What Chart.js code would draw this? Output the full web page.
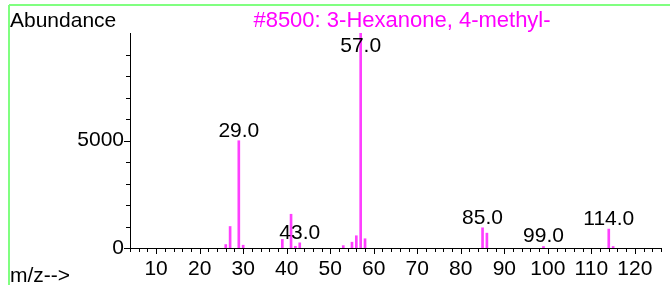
<!DOCTYPE html>
<html>
<head>
<meta charset="utf-8">
<script src="https://cdn.jsdelivr.net/npm/chart.js@4"></script>
<style>
  html, body { margin: 0; padding: 0; background: #fff; }
</style>
</head>
<body>
<canvas id="msChart" width="670" height="285"></canvas>
<script>
// mass spectrum of 4-methyl-3-hexanone
const mzValues   = [26, 27, 29, 30, 39, 41, 42, 43, 53, 55, 56, 57, 58, 85, 86, 99, 114, 115];
const abundances = [160, 1000, 4990, 130, 400, 1570, 80, 240, 110, 270, 570, 9999, 430, 940, 690, 70, 880, 70];
const labeledPeaks = [29, 43, 57, 85, 99, 114];
const xTickLabels = [10, 20, 30, 40, 50, 60, 70, 80, 90, 100, 110, 120];
const yTickLabels = [0, 5000];
const chartTitle = "#8500: 3-Hexanone, 4-methyl-";

const FONT = "Liberation Sans, Arial, sans-serif";
const FSIZE = 21;

const overlayPlugin = {
  id: "msOverlay",
  afterDraw(chart) {
    const { ctx, scales: { x, y } } = chart;
    ctx.save();

    // tick marks (minor / major)
    ctx.strokeStyle = "#000";
    ctx.lineWidth = 1;
    ctx.beginPath();
    x.ticks.forEach(t => {
      const px = Math.round(x.getPixelForValue(t.value)) + 0.5;
      const len = t.value % 10 === 0 ? 6 : 4;
      ctx.moveTo(px, y.bottom);
      ctx.lineTo(px, y.bottom + len);
    });
    y.ticks.forEach(t => {
      if (t.value > 9000) return;
      const py = Math.round(y.getPixelForValue(t.value)) + 0.5;
      const len = t.value % 5000 === 0 ? 6 : 4;
      ctx.moveTo(x.left - len, py);
      ctx.lineTo(x.left, py);
    });
    ctx.stroke();

    // peak labels
    ctx.font = FSIZE + "px " + FONT;
    ctx.fillStyle = "#000";
    ctx.textAlign = "center";
    ctx.textBaseline = "alphabetic";
    const meta = chart.getDatasetMeta(0);
    meta.data.forEach((bar, i) => {
      if (!labeledPeaks.includes(mzValues[i])) return;
      const base = Math.max(bar.y - 4, 52);
      ctx.fillText(mzValues[i].toFixed(1), bar.x, base);
    });

    // title and axis captions
    ctx.textAlign = "left";
    ctx.fillText("Abundance", 10, 27);
    ctx.fillText("m/z-->", 10, 282);
    ctx.font = "22px " + FONT;
    ctx.fillStyle = "#ff00ff";
    ctx.textAlign = "center";
    ctx.fillText(chartTitle, 402, 27);

    // green frame
    ctx.strokeStyle = "#80ff80";
    ctx.lineWidth = 2;
    ctx.beginPath();
    ctx.moveTo(9, 5);
    ctx.lineTo(670, 5);
    ctx.moveTo(9, 5);
    ctx.lineTo(9, 285);
    ctx.stroke();

    ctx.restore();
  }
};

const ctx = document.getElementById("msChart").getContext("2d");
new Chart(ctx, {
  type: "bar",
  data: {
    datasets: [{
      data: mzValues.map((m, i) => ({ x: m, y: abundances[i] })),
      backgroundColor: "#ff40ff",
      borderWidth: 0,
      barThickness: 2
    }]
  },
  options: {
    responsive: false,
    animation: false,
    devicePixelRatio: 1,
    layout: { padding: { top: 33, right: 8, left: 0, bottom: 0 } },
    plugins: { legend: { display: false }, tooltip: { enabled: false } },
    scales: {
      x: {
        type: "linear",
        min: 4,
        max: 126,
        offset: false,
        grid: { display: false, drawTicks: false },
        border: { display: true, color: "#000", width: 1 },
        ticks: {
          stepSize: 2,
          autoSkip: false,
          maxRotation: 0,
          padding: 9,
          color: "#000",
          font: { family: FONT, size: FSIZE },
          callback: v => xTickLabels.includes(v) ? String(v) : ""
        },
        afterFit: s => { s.height = 37; }
      },
      y: {
        min: 0,
        max: 10000,
        grid: { display: false, drawTicks: false },
        border: { display: true, color: "#000", width: 1 },
        ticks: {
          stepSize: 1000,
          autoSkip: false,
          padding: 6,
          color: "#000",
          font: { family: FONT, size: FSIZE },
          callback: v => yTickLabels.includes(v) ? String(v) : ""
        },
        afterFit: s => { s.width = 130; }
      }
    }
  },
  plugins: [overlayPlugin]
});
</script>
</body>
</html>
